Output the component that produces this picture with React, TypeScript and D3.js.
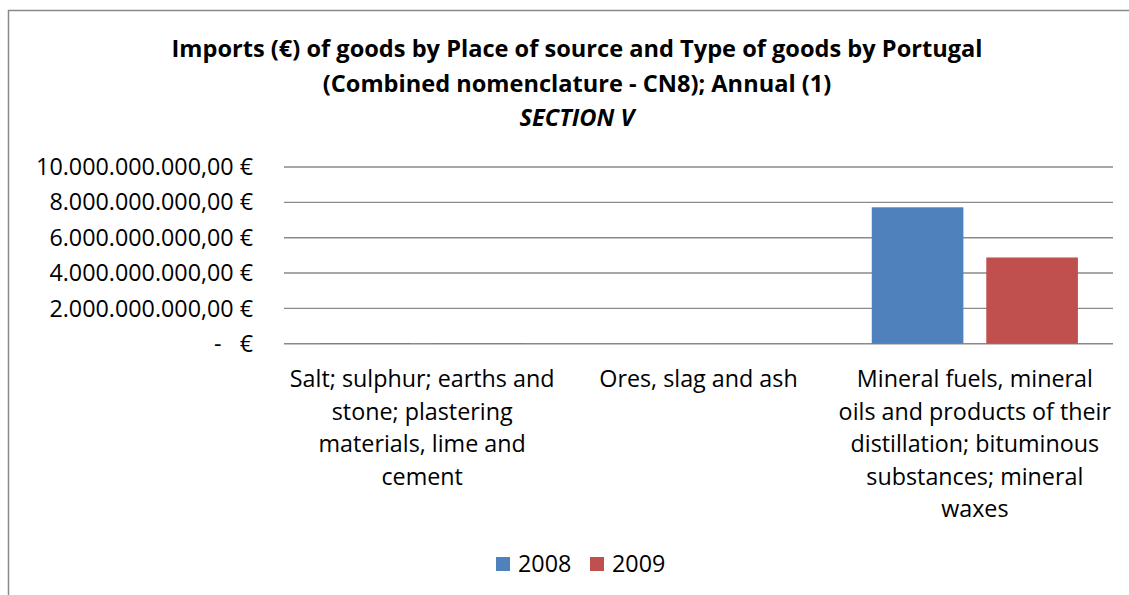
import React from "react";
import * as d3 from "d3";

const titleLines = [
  "Imports (€) of goods by Place of source and Type of goods by Portugal",
  "(Combined nomenclature - CN8); Annual (1)",
];
const subtitle = "SECTION V";

const categories = [
  "Salt; sulphur; earths and stone; plastering materials, lime and cement",
  "Ores, slag and ash",
  "Mineral fuels, mineral oils and products of their distillation; bituminous substances; mineral waxes",
];
const categoryLines = [
  ["Salt; sulphur; earths and", "stone; plastering", "materials, lime and", "cement"],
  ["Ores, slag and ash"],
  ["Mineral fuels, mineral", "oils and products of their", "distillation; bituminous", "substances; mineral", "waxes"],
];
const seriesNames = ["2008", "2009"];
const values2008 = [40000000, 8000000, 7720000000];
const values2009 = [15000000, 4000000, 4880000000];
const yTicks = [0, 2e9, 4e9, 6e9, 8e9, 10e9];
const colors = ["#4F81BD", "#C0504D"];

const fmt = (v: number) => {
  if (v === 0) return "-   €";
  const s = Math.round(v).toString().replace(/\B(?=(\d{3})+(?!\d))/g, ".");
  return s + ",00 €";
};

export default function App() {
  const W = 1129, H = 595;
  const left = 284, right = 1113, top = 167, bottom = 343.7;
  const font = "'Open Sans', Lato, sans-serif";
  const fs = 23.3;
  const x0 = d3.scaleBand<string>().domain(categories).range([left, right]).padding(0);
  const bw = x0.bandwidth();
  const outer = bw * 0.127;
  const x1 = d3.scaleBand<string>().domain(seriesNames).range([outer, bw - outer]).paddingInner(0.2);
  const y = d3.scaleLinear().domain([0, 10e9]).range([bottom, top]);
  const series = [values2008, values2009];

  return (
    <svg width={W} height={H} style={{ position: "absolute", left: 0, top: 0, background: "#fff" }} fontFamily={font}>
      <rect x={8.5} y={10.5} width={1200} height={700} fill="#fff" stroke="#898989" strokeWidth={1.5} />
      {titleLines.map((t, i) => (
        <text key={i} x={577} y={49 + i * 35} dy="0.35em" textAnchor="middle" fontWeight="bold" fontSize={23.6} fill="#000">{t}</text>
      ))}
      <text x={577} y={118} dy="0.35em" textAnchor="middle" fontWeight="bold" fontStyle="italic" fontSize={23.6} fill="#000">{subtitle}</text>
      {yTicks.map((t) => (
        <g key={t}>
          <line x1={left} x2={right} y1={y(t)} y2={y(t)} stroke="#8a8a8a" strokeWidth={1.4} />
          <text x={253} y={y(t)} dy="0.35em" textAnchor="end" fontSize={fs} fill="#000" style={{ whiteSpace: "pre" }}>{fmt(t)}</text>
        </g>
      ))}
      {categories.map((c, ci) => (
        <g key={c} transform={`translate(${x0(c)},0)`}>
          {seriesNames.map((s, si) => {
            const v = series[si][ci];
            return (
              <rect key={s} x={x1(s)} y={y(v)} width={x1.bandwidth()} height={bottom - y(v)} fill={colors[si]} />
            );
          })}
          {categoryLines[ci].map((ln, li) => (
            <text key={li} x={bw / 2} y={379 + li * 32.5} dy="0.35em" textAnchor="middle" fontSize={fs} fill="#000">{ln}</text>
          ))}
        </g>
      ))}
      {seriesNames.map((s, si) => (
        <g key={s} transform={`translate(${496 + si * 94},0)`}>
          <rect x={0} y={557} width={14} height={14} fill={colors[si]} />
          <text x={22} y={564} dy="0.35em" fontSize={fs} fill="#000">{s}</text>
        </g>
      ))}
    </svg>
  );
}
